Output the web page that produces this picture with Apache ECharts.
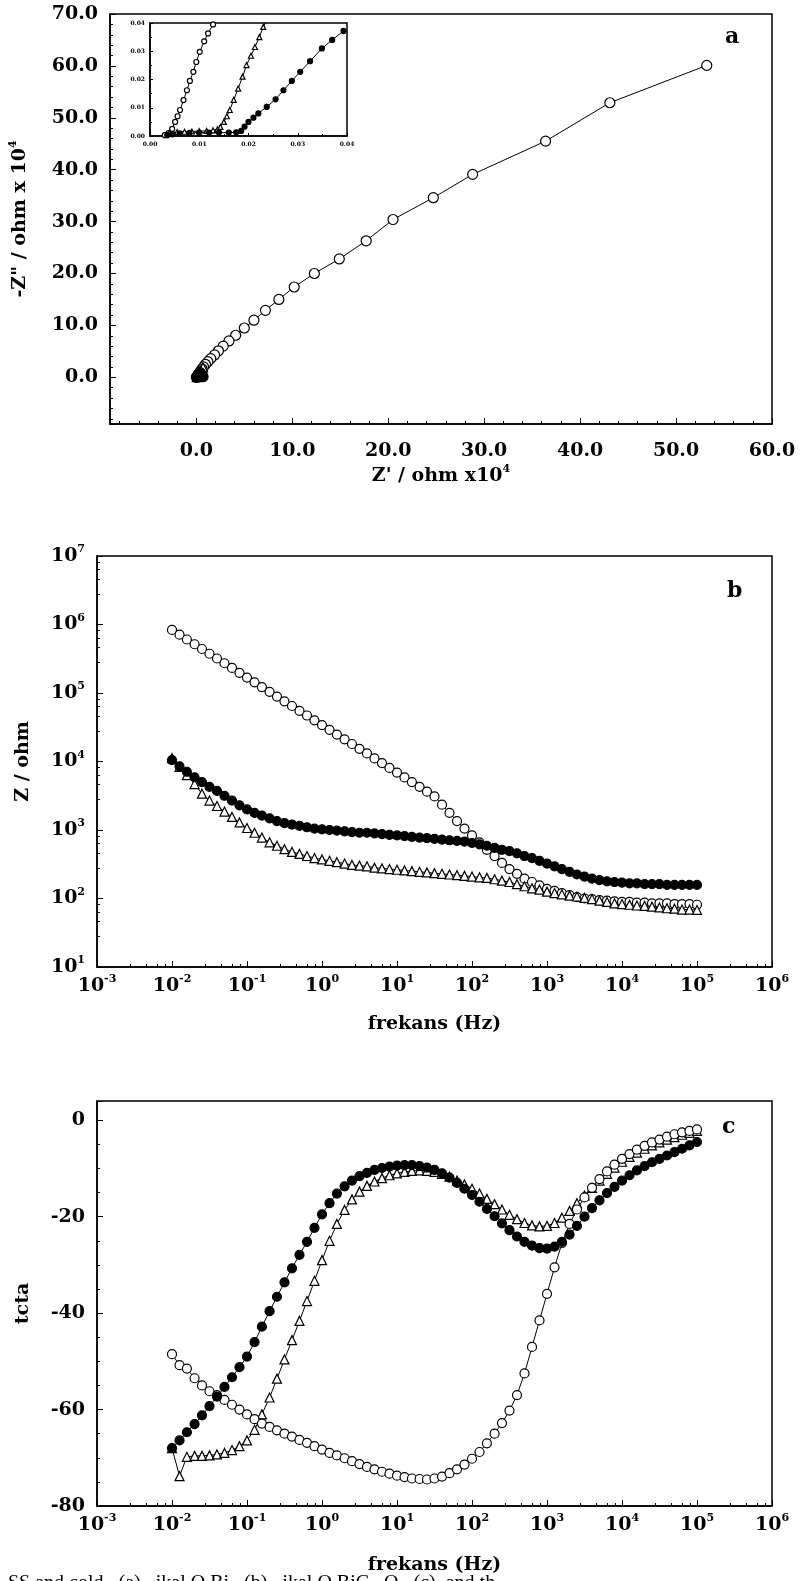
<!DOCTYPE html>
<html><head><meta charset="utf-8">
<script src="https://cdn.jsdelivr.net/npm/echarts@6/dist/echarts.min.js"></script>
<style>html,body{margin:0;padding:0;background:#fff}#c{width:802px;height:1581px}</style>
</head><body><div id="c"></div>
<script>
// ---------- Panel a : Nyquist (x10^4 ohm) ----------
const nyqX = [53.2,43.1,36.4,28.8,24.7,20.5,17.7,14.9,12.3,10.2,8.6,7.2,6.0,5.0,4.1,3.4,2.8,2.3,1.9,1.5,1.2,0.95,0.75,0.6,0.45,0.35,0.25,0.18,0.12,0.08];
const nyqY = [60.1,52.9,45.5,39.1,34.6,30.4,26.3,22.8,20.0,17.4,15.0,12.9,11.0,9.5,8.1,7.0,6.0,5.1,4.3,3.6,3.0,2.5,2.0,1.6,1.2,0.9,0.6,0.4,0.25,0.12];
const nyqTriX = [0.05,0.1,0.2,0.3,0.4,0.5,0.6,0.7];
const nyqTriY = [0.05,0.2,0.45,0.7,1.0,1.3,1.6,1.9];
const nyqFilX = [0.0,0.05,0.1,0.2,0.3,0.4,0.5,0.6,0.7,0.2,0.4];
const nyqFilY = [0.0,0.02,0.05,0.1,0.2,0.35,0.5,0.3,0.1,0.6,0.9];
// ---------- Inset ----------
const insOpenX = [0.0030,0.0038,0.0045,0.0051,0.0056,0.0061,0.0068,0.0075,0.0081,0.0088,0.0094,0.0101,0.0110,0.0118,0.0128,0.0134];
const insOpenY = [0.0003,0.0010,0.0025,0.0050,0.0070,0.0092,0.0127,0.0162,0.0195,0.0227,0.0262,0.0298,0.0335,0.0363,0.0395,0.0420];
const insTriX = [0.0040,0.0055,0.0070,0.0085,0.0100,0.0115,0.0128,0.0137,0.0143,0.0150,0.0156,0.0162,0.0170,0.0179,0.0188,0.0196,0.0205,0.0213,0.0222,0.0230,0.0240];
const insTriY = [0.0012,0.0014,0.0015,0.0016,0.0017,0.0018,0.0020,0.0024,0.0032,0.0050,0.0070,0.0092,0.0128,0.0168,0.0210,0.0251,0.0284,0.0315,0.0350,0.0386,0.0420];
const insFilX = [0.0035,0.0045,0.0060,0.0080,0.0100,0.0120,0.0140,0.0160,0.0175,0.0185,0.0192,0.0200,0.0210,0.0220,0.0237,0.0255,0.0271,0.0288,0.0305,0.0325,0.0349,0.0370,0.0393];
const insFilY = [0.0003,0.0006,0.0009,0.0011,0.0012,0.0012,0.0012,0.0012,0.0013,0.0018,0.0033,0.0050,0.0065,0.0080,0.0103,0.0130,0.0162,0.0195,0.0227,0.0265,0.0310,0.0340,0.0372];
// ---------- Panels b, c : frequency (Hz) ----------
const freq = [0.01,0.0126,0.0158,0.02,0.0251,0.0316,0.0398,0.0501,0.0631,0.0794,
  0.1,0.126,0.158,0.2,0.251,0.316,0.398,0.501,0.631,0.794,
  1,1.26,1.58,2,2.51,3.16,3.98,5.01,6.31,7.94,
  10,12.6,15.8,20,25.1,31.6,39.8,50.1,63.1,79.4,
  100,126,158,200,251,316,398,501,631,794,
  1000,1260,1580,2000,2510,3160,3980,5010,6310,7940,
  10000,12600,15800,20000,25100,31600,39800,50100,63100,79400,
  100000];
const zOpen = [832000,710000,604000,515000,439000,374000,319000,272000,232000,197000,
  168000,143000,122000,104000,88700,75700,64600,55000,46900,39900,
  34000,29000,24700,21100,18000,15300,13100,11100,9480,8070,
  6890,5860,5000,4270,3630,3090,2340,1780,1350,1050,
  832,661,513,417,331,269,229,195,174,155,
  138,129,120,112,105,100,98,95,93,91,
  89,89,87,87,85,85,85,83,83,83,
  81];
const zTri = [11200,8320,6310,4680,3390,2690,2240,1860,1550,1290,
  1070,912,776,661,589,525,479,447,417,389,
  372,355,339,324,309,302,295,282,275,269,
  263,257,251,245,240,234,229,224,219,214,
  209,204,200,191,182,174,162,151,141,135,
  126,120,115,110,107,102,98,93,89,85,
  83,81,79,78,76,74,72,71,69,69,
  68];
const zFil = [10500,8510,7080,5890,5010,4270,3720,3160,2690,2290,
  1995,1778,1622,1479,1349,1259,1202,1148,1096,1047,
  1023,1000,977,955,933,912,912,891,871,851,
  832,813,794,776,759,741,724,708,692,676,
  646,617,589,550,513,490,457,417,389,355,
  324,295,269,245,224,209,195,186,178,174,
  170,166,166,162,162,162,158,158,158,158,
  158];
const phFil = [-68.0,-66.4,-64.7,-63.0,-61.2,-59.3,-57.3,-55.3,-53.3,-51.2,
  -49.0,-46.0,-42.8,-39.6,-36.6,-33.6,-30.7,-27.9,-25.2,-22.3,
  -19.5,-17.2,-15.2,-13.7,-12.5,-11.6,-10.9,-10.3,-9.9,-9.6,
  -9.4,-9.3,-9.3,-9.5,-9.8,-10.3,-11.0,-11.9,-13.0,-14.2,
  -15.5,-16.9,-18.4,-19.9,-21.4,-22.8,-24.1,-25.2,-26.0,-26.5,
  -26.6,-26.2,-25.2,-23.7,-21.9,-20.0,-18.2,-16.6,-15.1,-13.8,
  -12.5,-11.4,-10.4,-9.5,-8.7,-8.0,-7.3,-6.6,-5.9,-5.2,
  -4.5];
const phTri = [-68.0,-73.8,-69.8,-69.6,-69.6,-69.5,-69.3,-69.0,-68.4,-67.6,
  -66.4,-64.2,-61.0,-57.5,-53.6,-49.6,-45.6,-41.6,-37.5,-33.3,
  -29.0,-25.0,-21.5,-18.6,-16.4,-14.8,-13.6,-12.7,-12.0,-11.4,
  -11.0,-10.7,-10.5,-10.4,-10.5,-10.7,-11.1,-11.7,-12.5,-13.3,
  -14.2,-15.2,-16.3,-17.4,-18.5,-19.6,-20.5,-21.3,-21.8,-22.0,
  -21.9,-21.3,-20.2,-18.8,-17.2,-15.6,-14.0,-12.5,-11.1,-9.8,
  -8.6,-7.6,-6.7,-5.9,-5.2,-4.6,-4.0,-3.5,-3.0,-2.6,
  -2.2];
const phOpen = [-48.5,-50.8,-51.5,-53.5,-55.0,-56.2,-57.0,-58.0,-59.0,-60.0,
  -61.0,-62.0,-62.9,-63.6,-64.3,-65.0,-65.6,-66.3,-66.9,-67.6,
  -68.3,-69.0,-69.5,-70.1,-70.7,-71.3,-71.9,-72.4,-72.9,-73.3,
  -73.7,-74.0,-74.3,-74.4,-74.5,-74.3,-73.9,-73.2,-72.4,-71.4,
  -70.2,-68.8,-67.0,-65.0,-62.8,-60.2,-57.0,-52.5,-47.0,-41.5,
  -36.0,-30.5,-25.5,-21.5,-18.5,-16.0,-14.0,-12.2,-10.6,-9.2,
  -8.0,-7.0,-6.1,-5.3,-4.6,-4.0,-3.4,-2.9,-2.5,-2.2,
  -1.9];

const FONT = 'DejaVu Serif';
const pairs = (xs, ys) => xs.map((x, i) => [x, ys[i]]);
const labStyle = {color:'#000', fontFamily:FONT, fontWeight:'bold', fontSize:19};
const rich = {
  b:{fontFamily:FONT, fontWeight:'bold', fontSize:19, color:'#000', lineHeight:24},
  n:{fontFamily:FONT, fontWeight:'bold', fontSize:19, color:'#000', lineHeight:24},
  s:{fontFamily:FONT, fontWeight:'bold', fontSize:11, color:'#000', verticalAlign:'top', lineHeight:24}
};
const logFmt = v => '{b|10}{s|' + Math.round(Math.log10(v)) + '}';

function ax(extra) {
  return Object.assign({
    axisLine:{show:true, onZero:false, lineStyle:{color:'#000', width:1.5}},
    axisTick:{show:true, inside:true, length:6, lineStyle:{color:'#000', width:1}},
    minorTick:{show:true, splitNumber:5, length:3, lineStyle:{color:'#000', width:1}},
    splitLine:{show:false},
    minorSplitLine:{show:false}
  }, extra);
}
const nameStyle = {color:'#000', fontFamily:FONT, fontWeight:'bold', fontSize:19, rich: rich};

function ser(xi, data, sym, size, fill, extra) {
  return Object.assign({
    type:'line', xAxisIndex:xi, yAxisIndex:xi, data:data,
    symbol:sym, symbolSize:size, showSymbol:true, clip:true,
    lineStyle:{color:'#000', width:1},
    itemStyle:{color: fill ? '#000' : '#fff', borderColor:'#000', borderWidth:1.2},
    emphasis:{disabled:true}, animation:false
  }, extra || {});
}

const option = {
  animation:false,
  backgroundColor:'#fff',
  grid:[
    {left:107, top:14, width:665, height:410, show:true, borderColor:'#000', borderWidth:1.5, backgroundColor:'transparent'},
    {left:97, top:556, width:675, height:411, show:true, borderColor:'#000', borderWidth:1.5, backgroundColor:'transparent'},
    {left:97, top:1101, width:675, height:405, show:true, borderColor:'#000', borderWidth:1.5, backgroundColor:'transparent'},
    {left:150, top:23, width:197, height:113, show:true, borderColor:'#000', borderWidth:1.5, backgroundColor:'#fff'}
  ],
  xAxis:[
    ax({gridIndex:0, type:'value', min:-9, max:60, splitNumber:7,
      axisLabel:Object.assign({}, labStyle, {margin:18, showMinLabel:false, formatter:v => v.toFixed(1)}),
      name:"{n|Z' / ohm x10}{s|4}", nameLocation:'middle', nameGap:40, nameTextStyle:nameStyle}),
    ax({gridIndex:1, type:'log', logBase:10, min:0.001, max:1e6, splitNumber:9,
      axisLabel:{margin:7, formatter:logFmt, rich:rich},
      name:'frekans (Hz)', nameLocation:'middle', nameGap:48, nameTextStyle:nameStyle}),
    ax({gridIndex:2, type:'log', logBase:10, min:0.001, max:1e6, splitNumber:9,
      axisLabel:{margin:7, formatter:logFmt, rich:rich},
      name:'frekans (Hz)', nameLocation:'middle', nameGap:50, nameTextStyle:nameStyle}),
    ax({gridIndex:3, type:'value', min:0, max:0.04, interval:0.01,
      axisTick:{show:true, inside:true, length:3, lineStyle:{color:'#000'}},
      minorTick:{show:true, splitNumber:2, length:2, lineStyle:{color:'#000'}},
      axisLabel:{margin:5, color:'#000', fontFamily:FONT, fontWeight:'bold', fontSize:6, formatter:v => v.toFixed(2)}})
  ],
  yAxis:[
    ax({gridIndex:0, type:'value', min:-9, max:70, splitNumber:8,
      axisLabel:Object.assign({}, labStyle, {margin:12, showMinLabel:false, formatter:v => v.toFixed(1)}),
      name:'{n|-Z" / ohm x 10}{s|4}', nameLocation:'middle', nameGap:78, nameTextStyle:nameStyle}),
    ax({gridIndex:1, type:'log', logBase:10, min:10, max:1e7,
      axisLabel:{margin:12, formatter:logFmt, rich:rich},
      name:'Z / ohm', nameLocation:'middle', nameGap:64, nameTextStyle:nameStyle}),
    ax({gridIndex:2, type:'value', min:-80, max:4, interval:20,
      minorTick:{show:true, splitNumber:4, length:3, lineStyle:{color:'#000'}},
      axisLabel:Object.assign({}, labStyle, {margin:12, showMaxLabel:false}),
      name:'tcta', nameLocation:'middle', nameGap:64, nameTextStyle:nameStyle}),
    ax({gridIndex:3, type:'value', min:0, max:0.04, interval:0.01,
      axisTick:{show:true, inside:true, length:3, lineStyle:{color:'#000'}},
      minorTick:{show:true, splitNumber:2, length:2, lineStyle:{color:'#000'}},
      axisLabel:{margin:5, color:'#000', fontFamily:FONT, fontWeight:'bold', fontSize:6, formatter:v => v.toFixed(2)}})
  ],
  series:[
    ser(0, pairs(nyqX, nyqY), 'circle', 10, false),
    ser(0, pairs(nyqTriX, nyqTriY), 'triangle', 9, false),
    ser(0, pairs(nyqFilX, nyqFilY), 'circle', 10, true, {lineStyle:{width:0}}),
    ser(3, pairs(insOpenX, insOpenY), 'circle', 5, false, {z:5}),
    ser(3, pairs(insTriX, insTriY), 'triangle', 5, false, {z:5}),
    ser(3, pairs(insFilX, insFilY), 'circle', 5, true, {z:5}),
    ser(1, pairs(freq, zOpen), 'circle', 9, false),
    ser(1, pairs(freq, zTri), 'triangle', 9, false),
    ser(1, pairs(freq, zFil), 'circle', 9, true),
    ser(2, pairs(freq, phTri), 'triangle', 9, false),
    ser(2, pairs(freq, phOpen), 'circle', 9, false),
    ser(2, pairs(freq, phFil), 'circle', 9, true)
  ],
  graphic:[
    {type:'text', left:725, top:26, style:{text:'a', font:'bold 22px "DejaVu Serif"', fill:'#000'}},
    {type:'text', left:727, top:580, style:{text:'b', font:'bold 22px "DejaVu Serif"', fill:'#000'}},
    {type:'text', left:722, top:1116, style:{text:'c', font:'bold 22px "DejaVu Serif"', fill:'#000'}},
    {type:'text', left:8, top:1574, style:{text:'SS and cold   (a)   ikal O.Bi   (b)   ikal O.BiC   O   (c)  and th', font:'20px "Liberation Serif"', fill:'#000'}}
  ]
};
const chart = echarts.init(document.getElementById('c'));
chart.setOption(option);
</script></body></html>
